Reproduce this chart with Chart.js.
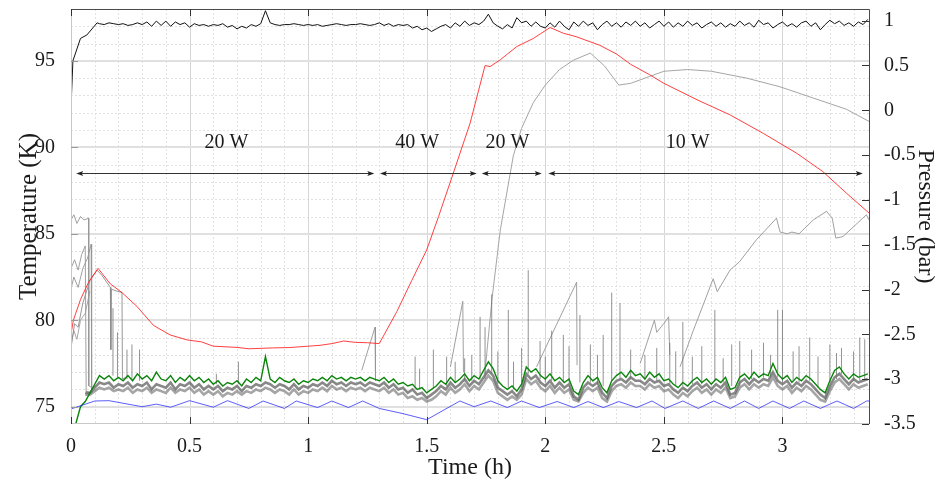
<!DOCTYPE html>
<html>
<head>
<meta charset="utf-8">
<script src="https://cdn.jsdelivr.net/npm/chart.js@4.4.1/dist/chart.umd.min.js"></script>
<style>
  html, body { margin: 0; padding: 0; background: #fff; }
</style>
</head>
<body>
<canvas id="chart" width="950" height="484"></canvas>
<script>
// ---- axis ticks ----
var xTicks = [0, 0.5, 1, 1.5, 2, 2.5, 3];
var xMinor = [0.1,0.2,0.3,0.4,0.6,0.7,0.8,0.9,1.1,1.2,1.3,1.4,1.6,1.7,1.8,1.9,2.1,2.2,2.3,2.4,2.6,2.7,2.8,2.9,3.1,3.2,3.3];
var leftTicks = [75, 80, 85, 90, 95];
var leftMinor = [76,77,78,79,81,82,83,84,86,87,88,89,91,92,93,94,96,97];
var rightTicks = [-3.5, -3, -2.5, -2, -1.5, -1, -0.5, 0, 0.5, 1];

// ---- heating power annotations (h) ----
var powerLabels = ['20 W', '40 W', '20 W', '10 W'];
var powerStart = [0.022, 1.303, 1.732, 2.013];
var powerEnd = [1.279, 1.711, 1.985, 3.339];
var powerMid = [0.655, 1.46, 1.84, 2.6];

// ---- shared time grid (h) for the noisy sensors ----
var tGrid = [
  0,0.02,0.04,0.06,0.08,0.1,0.12,0.14,0.16,0.18,
  0.2,0.22,0.24,0.26,0.28,0.3,0.32,0.34,0.36,0.38,
  0.4,0.42,0.44,0.46,0.48,0.5,0.52,0.54,0.56,0.58,
  0.6,0.62,0.64,0.66,0.68,0.7,0.72,0.74,0.76,0.78,
  0.8,0.82,0.84,0.86,0.88,0.9,0.92,0.94,0.96,0.98,
  1,1.02,1.04,1.06,1.08,1.1,1.12,1.14,1.16,1.18,
  1.2,1.22,1.24,1.26,1.28,1.3,1.32,1.34,1.36,1.38,
  1.4,1.42,1.44,1.46,1.48,1.5,1.52,1.54,1.56,1.58,
  1.6,1.62,1.64,1.66,1.68,1.7,1.72,1.74,1.76,1.78,
  1.8,1.82,1.84,1.86,1.88,1.9,1.92,1.94,1.96,1.98,
  2,2.02,2.04,2.06,2.08,2.1,2.12,2.14,2.16,2.18,
  2.2,2.22,2.24,2.26,2.28,2.3,2.32,2.34,2.36,2.38,
  2.4,2.42,2.44,2.46,2.48,2.5,2.52,2.54,2.56,2.58,
  2.6,2.62,2.64,2.66,2.68,2.7,2.72,2.74,2.76,2.78,
  2.8,2.82,2.84,2.86,2.88,2.9,2.92,2.94,2.96,2.98,
  3,3.02,3.04,3.06,3.08,3.1,3.12,3.14,3.16,3.18,
  3.2,3.22,3.24,3.26,3.28,3.3,3.32,3.34,3.36
];

// top black sensor (K)
var blackHeadT = [0, 0.008, 0.04, 0.067, 0.11];
var blackHeadK = [92.3, 95.0, 96.3, 96.5, 97.2];
var blackK = [
  null,null,null,null,null,null,97.15,97.1,97.2,97.15,
  97.1,97.15,97.05,97.1,97.2,97.1,97.25,97.0,97.3,97.05,
  97.3,97.0,97.25,97.1,97.2,96.95,97.15,97.05,97.1,97.0,
  97.1,97.05,97.15,96.95,97.05,96.85,97.0,96.9,97.1,97.0,
  97.15,97.9,97.2,97.1,97.05,97.1,97.1,97.15,97.1,97.05,
  97.1,97.05,97.1,97.0,97.05,97.1,97.15,97.1,97.05,97.1,
  97.1,97.15,97.1,97.05,97.1,97.2,97.05,97.15,97.0,97.1,
  97.05,97.1,96.9,97.0,96.8,96.9,96.7,96.85,97.0,97.1,
  96.9,97.2,97.0,97.3,97.05,97.2,97.1,97.3,97.7,97.2,
  97.0,96.85,97.1,96.9,97.5,97.2,97.3,97.0,97.25,97.0,
  96.9,97.2,96.95,97.3,97.0,96.8,97.25,97.0,97.3,97.05,
  97.2,96.8,97.1,97.3,97.0,97.2,96.95,97.25,97.05,97.3,
  97.0,97.2,96.9,97.1,97.3,97.0,97.25,96.95,97.2,97.0,
  97.3,97.05,97.2,96.9,97.1,97.25,97.0,97.2,96.95,97.15,
  97.0,97.3,97.05,97.2,96.95,97.35,97.1,97.2,96.9,97.1,
  97.25,97.0,97.15,96.95,97.2,97.3,97.0,97.2,96.8,97.1,
  97.35,97.15,97.3,97.05,97.2,97.0,97.25,97.1,97.4
];

// green sensor (K)
var greenK = [
  null,74.0,75.0,75.3,75.8,76.3,76.8,76.6,76.8,76.5,
  76.7,76.5,76.8,76.5,76.9,76.6,76.8,76.5,77.0,76.6,
  76.5,76.8,76.4,76.7,76.5,76.8,76.5,76.7,76.4,76.6,
  76.3,76.5,76.2,76.4,76.3,76.5,76.2,76.6,76.4,76.7,
  76.5,77.9,76.6,76.4,76.7,76.5,76.4,76.6,76.3,76.5,
  76.4,76.6,76.5,76.7,76.5,76.8,76.6,76.7,76.5,76.7,
  76.6,76.7,76.5,76.7,76.6,76.5,76.7,76.4,76.6,76.3,
  76.4,76.2,76.3,76.0,76.1,75.8,76.0,76.2,76.5,76.3,
  76.7,76.4,76.6,76.9,76.5,76.8,76.6,77.1,77.6,77.2,
  76.5,76.2,76.0,76.2,75.9,76.3,77.3,77.0,77.2,76.8,
  76.6,76.9,76.5,76.7,76.4,76.6,75.9,75.7,76.4,76.8,
  76.5,76.7,76.1,75.8,76.5,76.8,77.0,76.7,77.1,76.8,
  76.9,76.6,77.0,76.7,76.9,76.5,76.6,76.3,76.1,76.4,
  76.2,76.5,76.7,76.4,76.6,76.3,76.6,76.4,76.7,76.0,
  76.1,76.7,76.9,76.6,77.0,76.7,76.9,76.8,77.5,76.9,
  76.6,76.8,76.4,76.7,76.5,76.8,76.6,76.3,76.0,75.8,
  76.5,77.1,77.3,76.9,76.6,76.9,76.7,76.8,76.9
];

// grey sensors running just under the green one (K)
var grayAK = [
  null,null,null,75.8,75.8,76.1,76.4,76.3,76.4,76.1,
  76.3,76.2,76.4,76.1,76.3,76.2,76.4,76.0,76.3,76.2,
  76.1,76.4,76.0,76.3,76.2,76.4,76.1,76.3,76.0,76.2,
  76.0,76.2,75.9,76.1,76.0,76.2,75.9,76.2,76.1,76.3,
  76.2,76.4,76.3,76.1,76.3,76.2,76.0,76.3,76.0,76.2,
  76.1,76.3,76.2,76.4,76.2,76.5,76.3,76.4,76.2,76.4,
  76.3,76.4,76.2,76.4,76.3,76.2,76.4,76.1,76.3,76.0,
  76.1,75.8,76.0,75.7,75.8,75.5,75.7,75.9,76.2,76.0,
  76.4,76.1,76.3,76.6,76.2,76.5,76.3,76.7,77.1,76.8,
  76.1,75.9,75.7,75.9,75.6,76.0,76.9,76.6,76.8,76.4,
  76.2,76.5,76.1,76.4,76.1,76.3,75.6,75.4,76.1,76.4,
  76.2,76.4,75.8,75.5,76.2,76.5,76.6,76.4,76.7,76.5,
  76.5,76.3,76.6,76.4,76.5,76.2,76.3,76.0,75.8,76.1,
  75.9,76.2,76.4,76.1,76.3,76.0,76.3,76.1,76.4,75.7,
  75.8,76.4,76.6,76.3,76.6,76.4,76.6,76.5,77.0,76.5,
  76.3,76.5,76.1,76.4,76.2,76.5,76.3,76.0,75.7,75.5,
  76.2,76.7,76.9,76.6,76.3,76.6,76.4,76.5,76.6
];
var grayBK = [
  null,null,null,75.7,75.7,75.9,76.1,76.0,76.1,75.9,
  76.0,75.9,76.1,75.8,76.0,75.9,76.1,75.8,76.0,75.9,
  75.8,76.1,75.8,76.0,75.9,76.1,75.8,76.0,75.7,75.9,
  75.7,75.9,75.6,75.8,75.7,75.9,75.7,75.9,75.8,76.0,
  75.9,76.1,76.0,75.8,76.0,75.9,75.7,76.0,75.7,75.9,
  75.8,76.0,75.9,76.1,75.9,76.2,76.0,76.1,75.9,76.1,
  76.0,76.1,75.9,76.1,76.0,75.9,76.1,75.8,76.0,75.7,
  75.8,75.5,75.6,75.4,75.5,75.3,75.4,75.6,75.9,75.7,
  76.1,75.8,76.0,76.3,75.9,76.2,76.0,76.4,76.8,76.5,
  75.8,75.6,75.4,75.6,75.4,75.7,76.6,76.3,76.5,76.1,
  75.9,76.2,75.8,76.1,75.8,76.0,75.4,75.3,75.8,76.1,
  75.9,76.1,75.5,75.3,75.9,76.2,76.3,76.1,76.4,76.2,
  76.2,76.0,76.3,76.1,76.2,75.9,76.0,75.7,75.5,75.8,
  75.6,75.9,76.1,75.8,76.0,75.7,76.0,75.8,76.1,75.5,
  75.6,76.1,76.3,76.0,76.3,76.1,76.3,76.2,76.7,76.2,
  76.0,76.2,75.8,76.1,75.9,76.2,76.0,75.7,75.4,75.3,
  75.9,76.4,76.6,76.3,76.0,76.3,76.1,76.2,76.3
];

// spikes on the grey sensors: time, foot, peak (K)
var spikeT = [0.177,0.196,0.236,0.257,0.289,0.613,0.706,1.451,1.47,1.528,1.584,1.62,1.66,1.69,1.725,1.746,1.774,1.80,1.844,1.866,1.90,1.928,1.978,2.0,2.027,2.076,2.1,2.146,2.19,2.22,2.244,2.28,2.315,2.36,2.42,2.47,2.525,2.55,2.58,2.62,2.66,2.715,2.75,2.786,2.82,2.87,2.92,2.95,2.98,3.0,3.045,3.07,3.115,3.15,3.2,3.228,3.249,3.3,3.326,3.347];
var spikeBase = [76.8,76.7,76.6,76.6,76.5,76.3,76.3,76.0,76.0,76.1,76.2,76.4,76.5,76.5,76.6,76.6,76.9,76.3,76.1,76.0,76.4,76.9,76.6,76.4,76.5,76.4,76.4,76.4,76.4,76.3,76.2,76.5,76.6,76.6,76.6,76.5,76.3,76.2,76.2,76.3,76.3,76.5,76.4,76.2,76.2,76.6,76.7,76.7,76.7,76.4,76.5,76.4,76.5,76.1,76.4,76.6,76.9,76.5,76.5,76.5];
var spikeK = [80.7,79.3,78.3,78.6,78.3,76.9,77.6,77.9,77.2,78.3,77.9,77.6,77.8,78.0,80.2,79.6,81.5,78.2,80.6,77.6,78.4,82.9,78.8,77.9,79.4,79.15,78.5,80.3,78.6,78.0,79.15,81.6,81.0,78.3,78.0,78.4,78.7,78.2,79.9,77.9,78.5,80.6,77.8,78.6,78.8,78.3,78.7,78.0,80.6,80.6,78.2,78.5,79.0,77.9,78.6,78.1,78.4,78.2,79.0,78.9];

// red sensor (K)
var redT = [0,0.01,0.04,0.074,0.114,0.166,0.215,0.278,0.348,0.418,0.49,0.55,0.6,0.7,0.75,0.85,0.92,1.0,1.05,1.1,1.15,1.2,1.25,1.3,1.32,1.374,1.437,1.5,1.55,1.612,1.683,1.746,1.767,1.81,1.88,1.95,2.02,2.076,2.13,2.23,2.3,2.36,2.44,2.5,2.64,2.78,2.92,3.06,3.17,3.27,3.365];
var redK = [79.2,80.0,81.2,82.2,83.0,82.1,81.6,80.8,79.7,79.15,78.86,78.75,78.5,78.43,78.35,78.4,78.42,78.5,78.55,78.65,78.8,78.72,78.7,78.65,79.15,80.5,82.3,84.07,86.0,88.5,91.4,94.73,94.67,95.06,95.83,96.3,96.93,96.6,96.4,95.9,95.4,94.8,94.2,93.7,92.75,91.87,90.8,89.66,88.6,87.35,86.2];

// blue sensor (K)
var blueT = [0,0.1,0.16,0.3,0.36,0.42,0.5,0.6,0.66,0.75,0.81,0.9,0.95,1.04,1.1,1.17,1.23,1.3,1.4,1.5,1.64,1.7,1.77,1.84,1.9,1.975,2.05,2.12,2.18,2.245,2.31,2.385,2.45,2.505,2.58,2.645,2.71,2.78,2.84,2.9,2.96,3.03,3.09,3.16,3.23,3.3,3.355,3.365];
var blueK = [74.87,75.33,75.35,75.0,75.15,74.97,75.35,74.97,75.35,74.9,75.33,74.9,75.33,74.95,75.33,74.95,75.33,74.9,74.6,74.25,75.33,75.0,75.33,74.95,75.33,74.95,75.3,74.95,75.3,74.95,75.3,74.95,75.33,74.9,75.33,74.9,75.33,74.9,75.33,74.9,75.33,74.9,75.33,74.9,75.33,74.9,75.33,75.33];

// grey curve rising after 1.75 h (K)
var humpT = [1.745,1.775,1.81,1.865,1.9,1.95,2.0,2.06,2.12,2.19,2.25,2.31,2.36,2.44,2.5,2.6,2.7,2.85,2.99,3.13,3.27,3.365];
var humpK = [76.9,81.2,85.2,89.5,91.1,92.6,93.6,94.5,95.05,95.45,94.7,93.6,93.7,94.1,94.4,94.5,94.4,94.0,93.5,92.85,92.2,91.5];

// grey saw-tooth sensor (K), null = break
var sawT = [1.226,1.282,1.284,1.29, 1.60,1.652,1.655,1.66, 1.963,2.132,2.134,2.14, 2.40,2.46,2.47,2.505,2.52,2.525,2.53, 2.568,2.624,2.708,2.725,2.779,2.82,2.89,2.975,2.99,3.02,3.04,3.07,3.13,3.186,3.21,3.225,3.255,3.354,3.365];
var sawK = [77.1,79.6,76.5,null, 77.3,81.1,77.0,null, 77.3,82.2,77.4,null, 77.5,80.0,79.3,79.9,80.2,78.0,null, 77.3,79.4,82.4,81.65,82.9,83.4,84.65,85.9,85.1,85.0,85.1,85.0,85.8,86.3,85.9,84.75,84.84,86.1,85.8];

// grey sensors during cool-down at the start (K)
var earlyAT = [0,0.012,0.025,0.04,0.055,0.074,0.075,0.09];
var earlyAK = [85.8,86.1,85.6,86.0,85.8,85.9,76.2,76.1];
var earlyBT = [0,0.015,0.03,0.045,0.06,0.064,0.08];
var earlyBK = [83.0,83.5,82.9,83.8,84.3,75.9,75.8];
var earlyCT = [0,0.012,0.03,0.05,0.07,0.085,0.087,0.1];
var earlyCK = [81.8,82.5,81.9,83.0,83.6,84.4,76.0,76.2];
var earlyDT = [0,0.015,0.03,0.05,0.08,0.11,0.13,0.166,0.168,0.17,0.19,0.215,0.217,0.23];
var earlyDK = [78.4,79.8,79.6,81.0,82.3,82.9,82.6,81.9,78.3,81.8,81.7,81.6,76.6,76.7];
var earlyET = [0,0.012,0.025,0.04,0.06,0.08];
var earlyEK = [78.6,79.4,78.9,80.0,80.4,81.7];

function pts(ts, vs) {
  return ts.map(function (t, i) { return { x: t, y: vs[i] }; });
}

var blackData = pts(blackHeadT, blackHeadK).concat(
  pts(tGrid, blackK).filter(function (p) { return p.y !== null; }));

var spikeData = [];
spikeT.forEach(function (t, i) {
  spikeData.push({ x: t, y: spikeBase[i] }, { x: t, y: spikeK[i] }, { x: t, y: null });
});

function ds(data, color, width) {
  return { data: data, borderColor: color, borderWidth: width, pointRadius: 0, tension: 0, spanGaps: false, fill: false };
}

// keep chart.js from adding room for half-labels at the axis ends
function noPad(s) { s.paddingTop = 0; s.paddingBottom = 0; s.paddingLeft = 0; s.paddingRight = 0; }

var serif = 'Liberation Serif';
var txt = '#1a1a1a';

var framePlugin = {
  id: 'frame',
  beforeDatasetsDraw: function (chart) {
    var ctx = chart.ctx, a = chart.chartArea, x = chart.scales.x, y = chart.scales.y;
    ctx.save();
    ctx.lineWidth = 1;
    ctx.strokeStyle = '#e2e2e2';
    ctx.setLineDash([2, 2]);
    xMinor.forEach(function (v) {
      var p = Math.round(x.getPixelForValue(v)) + 0.5;
      ctx.beginPath(); ctx.moveTo(p, a.top); ctx.lineTo(p, a.bottom); ctx.stroke();
    });
    leftMinor.forEach(function (v) {
      var p = Math.round(y.getPixelForValue(v)) + 0.5;
      ctx.beginPath(); ctx.moveTo(a.left, p); ctx.lineTo(a.right, p); ctx.stroke();
    });
    ctx.setLineDash([]);
    ctx.strokeStyle = '#d6d6d6';
    xTicks.forEach(function (v) {
      var p = Math.round(x.getPixelForValue(v)) + 0.5;
      ctx.beginPath(); ctx.moveTo(p, a.top); ctx.lineTo(p, a.bottom); ctx.stroke();
    });
    ctx.lineWidth = 2;
    ctx.strokeStyle = '#e0e0e0';
    leftTicks.forEach(function (v) {
      var p = Math.round(y.getPixelForValue(v));
      ctx.beginPath(); ctx.moveTo(a.left, p); ctx.lineTo(a.right, p); ctx.stroke();
    });
    ctx.restore();
  },
  afterDatasetsDraw: function (chart) {
    var ctx = chart.ctx, a = chart.chartArea, x = chart.scales.x, y = chart.scales.y, y2 = chart.scales.y2;
    ctx.save();
    ctx.lineWidth = 1;
    // frame
    ctx.strokeStyle = '#c8c8c8';
    ctx.beginPath();
    ctx.moveTo(a.left + 0.5, a.top); ctx.lineTo(a.left + 0.5, a.bottom);
    ctx.moveTo(a.left, a.bottom - 0.5); ctx.lineTo(a.right, a.bottom - 0.5);
    ctx.stroke();
    ctx.strokeStyle = '#4a4a4a';
    ctx.beginPath();
    ctx.moveTo(a.left, a.top + 0.5); ctx.lineTo(a.right + 0.5, a.top + 0.5);
    ctx.lineTo(a.right + 0.5, a.bottom);
    ctx.stroke();
    // inward tick marks
    ctx.strokeStyle = '#333';
    xTicks.forEach(function (v) {
      var p = Math.round(x.getPixelForValue(v)) + 0.5;
      ctx.beginPath();
      ctx.moveTo(p, a.top); ctx.lineTo(p, a.top + 7);
      ctx.moveTo(p, a.bottom); ctx.lineTo(p, a.bottom - 7);
      ctx.stroke();
    });
    rightTicks.forEach(function (v) {
      var p = Math.round(y2.getPixelForValue(v)) + 0.5;
      ctx.beginPath(); ctx.moveTo(a.right, p); ctx.lineTo(a.right - 7, p); ctx.stroke();
    });
    ctx.strokeStyle = '#999';
    leftTicks.forEach(function (v) {
      var p = Math.round(y.getPixelForValue(v)) + 0.5;
      ctx.beginPath(); ctx.moveTo(a.left, p); ctx.lineTo(a.left + 7, p); ctx.stroke();
    });
    // power annotations
    var ay = Math.round(y.getPixelForValue(88.54)) + 0.5;
    var ly = y.getPixelForValue(90.26);
    ctx.strokeStyle = '#333';
    ctx.fillStyle = '#222';
    powerLabels.forEach(function (lab, i) {
      var x0 = x.getPixelForValue(powerStart[i]), x1 = x.getPixelForValue(powerEnd[i]);
      ctx.beginPath(); ctx.moveTo(x0 + 3, ay); ctx.lineTo(x1 - 3, ay); ctx.stroke();
      ctx.beginPath();
      ctx.moveTo(x0, ay); ctx.lineTo(x0 + 7, ay - 2.5); ctx.lineTo(x0 + 5.5, ay); ctx.lineTo(x0 + 7, ay + 2.5); ctx.closePath();
      ctx.moveTo(x1, ay); ctx.lineTo(x1 - 7, ay - 2.5); ctx.lineTo(x1 - 5.5, ay); ctx.lineTo(x1 - 7, ay + 2.5); ctx.closePath();
      ctx.fill();
    });
    ctx.font = '20px "' + serif + '"';
    ctx.fillStyle = txt;
    ctx.textAlign = 'center';
    ctx.textBaseline = 'middle';
    powerLabels.forEach(function (lab, i) {
      ctx.fillText(lab, x.getPixelForValue(powerMid[i]), ly);
    });
    ctx.restore();
  }
};

new Chart(document.getElementById('chart'), {
  type: 'line',
  data: {
    datasets: [
      ds(pts(blueT, blueK), 'rgba(40,40,255,0.75)', 1),
      ds(pts(redT, redK), 'rgba(255,30,30,0.85)', 1),
      ds(blackData, '#111', 1),
      ds(pts(tGrid, greenK), '#0a840a', 1.4),
      ds(spikeData, 'rgba(110,110,110,0.75)', 1),
      ds(pts(tGrid, grayAK), 'rgba(85,85,85,0.7)', 2.6),
      ds(pts(tGrid, grayBK), 'rgba(105,105,105,0.6)', 2.6),
      ds(pts(humpT, humpK), 'rgba(155,155,155,0.9)', 1),
      ds(pts(sawT, sawK), 'rgba(150,150,150,0.9)', 1),
      ds(pts(earlyAT, earlyAK), 'rgba(150,150,150,0.9)', 1),
      ds(pts(earlyBT, earlyBK), 'rgba(150,150,150,0.9)', 1),
      ds(pts(earlyCT, earlyCK), 'rgba(150,150,150,0.9)', 1),
      ds(pts(earlyDT, earlyDK), 'rgba(140,140,140,0.9)', 1),
      ds(pts(earlyET, earlyEK), 'rgba(160,160,160,0.9)', 1)
    ]
  },
  options: {
    responsive: false,
    animation: false,
    devicePixelRatio: 1,
    events: [],
    layout: { padding: { top: 9, left: 0, right: 0, bottom: 0 } },
    plugins: { legend: { display: false }, tooltip: { enabled: false } },
    scales: {
      x: {
        type: 'linear', position: 'bottom', min: 0, max: 3.365,
        grid: { display: false }, border: { display: false },
        afterBuildTicks: function (s) { s.ticks = xTicks.map(function (v) { return { value: v }; }); },
        afterFit: function (s) { s.height = 60; noPad(s); },
        ticks: { autoSkip: false, maxRotation: 0, padding: 3, color: txt, font: { family: serif, size: 20 },
                 callback: function (v) { return String(v); } },
        title: { display: true, text: 'Time (h)', color: txt, font: { family: serif, size: 24 }, padding: { top: 0, bottom: 2 } }
      },
      y: {
        type: 'linear', position: 'left', min: 74, max: 98,
        grid: { display: false }, border: { display: false },
        afterBuildTicks: function (s) { s.ticks = leftTicks.map(function (v) { return { value: v }; }); },
        afterFit: function (s) { s.width = 71; noPad(s); },
        ticks: { padding: 8, color: txt, font: { family: serif, size: 20 },
                 callback: function (v) { return String(v); } },
        title: { display: true, text: 'Temperature (K)', color: txt, font: { family: serif, size: 25 }, padding: { top: 14, bottom: 0 } }
      },
      y2: {
        type: 'linear', position: 'right', min: -3.5, max: 1.13,
        grid: { display: false }, border: { display: false },
        afterBuildTicks: function (s) { s.ticks = rightTicks.map(function (v) { return { value: v }; }); },
        afterFit: function (s) { s.width = 81; noPad(s); },
        ticks: { padding: 7, color: txt, font: { family: serif, size: 20 },
                 callback: function (v) { return String(v); } },
        title: { display: true, text: 'Pressure (bar)', color: txt, font: { family: serif, size: 24 }, padding: { top: 10, bottom: 0 } }
      }
    }
  },
  plugins: [framePlugin]
});
</script>
</body>
</html>
